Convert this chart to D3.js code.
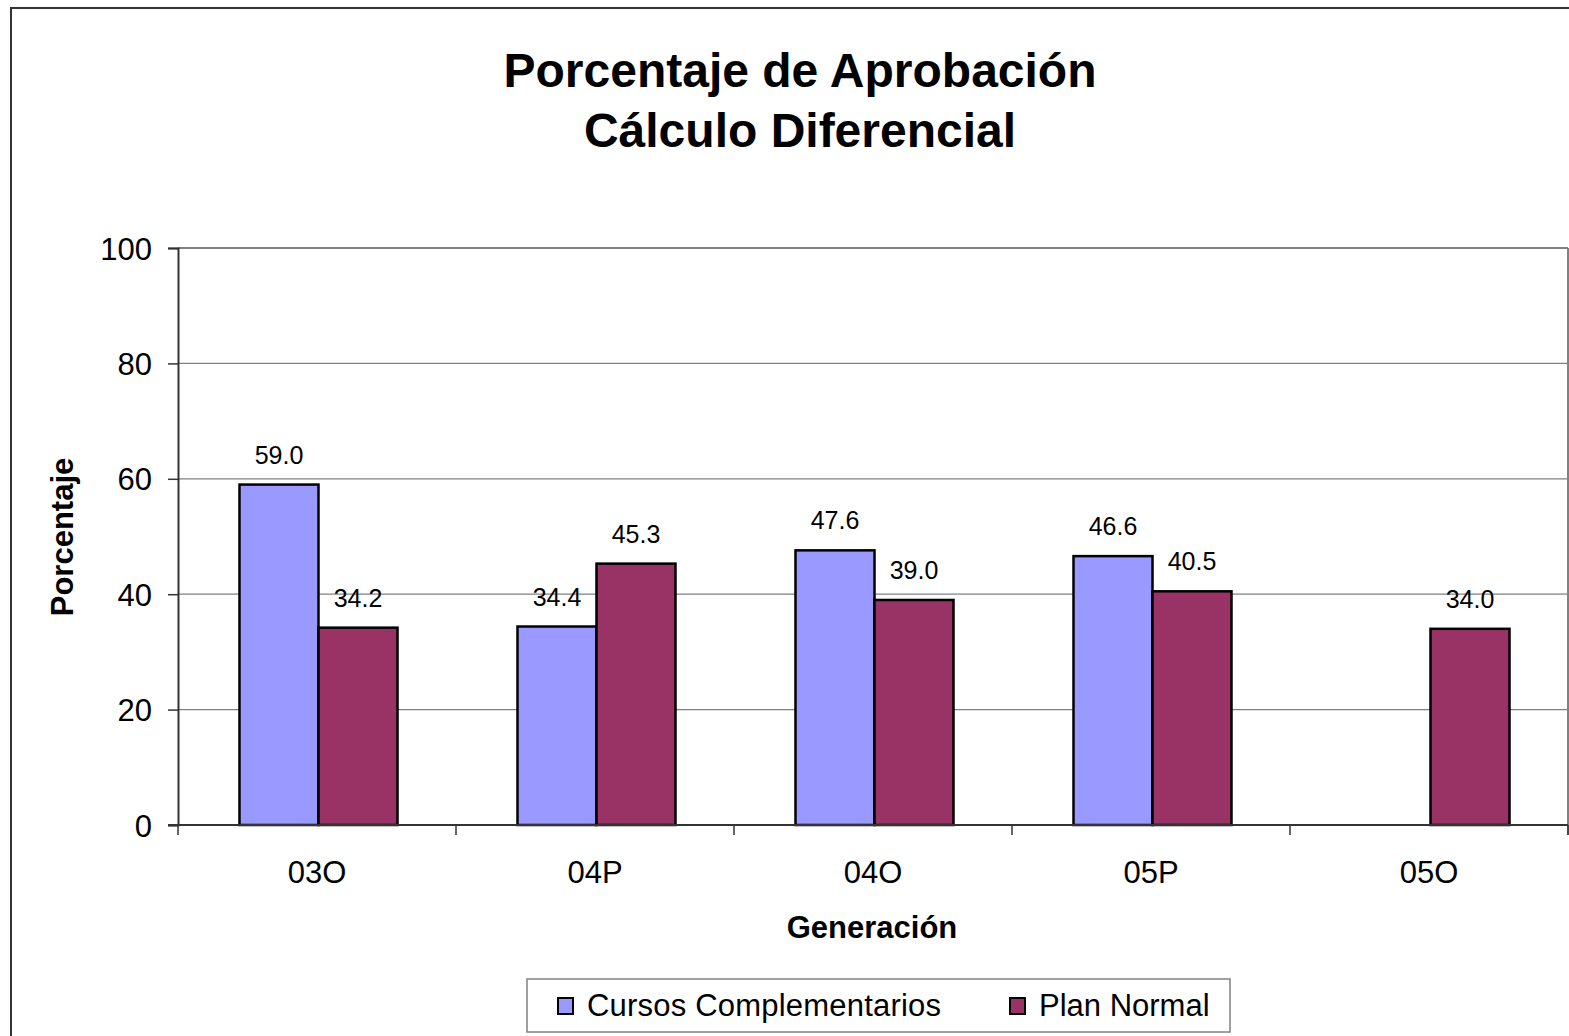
<!DOCTYPE html>
<html>
<head>
<meta charset="utf-8">
<script src="https://cdn.jsdelivr.net/npm/d3@7"></script>
<style>
  body { margin: 0; background: #fff; }
  svg { display: block; font-family: "Liberation Sans", Arial, sans-serif; }
</style>
</head>
<body>
<svg id="chart"></svg>
<script>
// DATOS
const generaciones = ["03O", "04P", "04O", "05P", "05O"];
const series = ["Cursos Complementarios", "Plan Normal"];
const cursos = [59.0, 34.4, 47.6, 46.6, null];
const planNormal = [34.2, 45.3, 39.0, 40.5, 34.0];
const yTicks = [0, 20, 40, 60, 80, 100];
const colores = ["#9999FF", "#993366"];

const width = 1569, height = 1036;
const m = { left: 178, right: 1568, top: 248, bottom: 825 };

const svg = d3.select("#chart").attr("width", width).attr("height", height);

// marco exterior
svg.append("rect")
  .attr("x", 11).attr("y", 8).attr("width", width).attr("height", height)
  .attr("fill", "none").attr("stroke", "#333").attr("stroke-width", 2);

// ESCALAS
const x0 = d3.scaleBand()
  .domain(generaciones)
  .range([m.left, m.right])
  .paddingInner(120 / 278)
  .paddingOuter(60 / 278);

const x1 = d3.scaleBand()
  .domain(series)
  .range([0, x0.bandwidth()]);

const y = d3.scaleLinear().domain([0, 100]).range([m.bottom, m.top]);

// rejilla
svg.append("g").selectAll("line")
  .data(yTicks.filter(d => d > 0))
  .join("line")
  .attr("x1", m.left).attr("x2", m.right)
  .attr("y1", d => y(d)).attr("y2", d => y(d))
  .attr("stroke", "#808080")
  .attr("stroke-width", d => d === 100 ? 2 : 1.3);

// borde derecho del area
svg.append("line")
  .attr("x1", m.right).attr("x2", m.right)
  .attr("y1", m.top).attr("y2", m.bottom + 10)
  .attr("stroke", "#808080").attr("stroke-width", 2);

// EJE Y
const yAxis = svg.append("g")
  .attr("transform", `translate(${m.left},0)`)
  .call(d3.axisLeft(y).tickValues(yTicks).tickSize(10).tickPadding(16));
yAxis.select(".domain").attr("stroke", "#333").attr("stroke-width", 2);
yAxis.selectAll(".tick line").attr("stroke", "#333").attr("stroke-width", 1.5);
yAxis.selectAll("text").attr("font-size", 31).attr("fill", "#000")
  .attr("dy", "0.36em")
  .attr("font-family", "Liberation Sans, Arial, sans-serif");

// BARRAS
const datos = generaciones.map((g, i) => ({
  g,
  valores: [
    { s: series[0], v: cursos[i], c: colores[0] },
    { s: series[1], v: planNormal[i], c: colores[1] }
  ]
}));

const grupos = svg.append("g").selectAll("g")
  .data(datos)
  .join("g")
  .attr("transform", d => `translate(${x0(d.g) + 1.5},0)`);

grupos.selectAll("rect")
  .data(d => d.valores.filter(v => v.v != null))
  .join("rect")
  .attr("x", d => x1(d.s))
  .attr("width", x1.bandwidth())
  .attr("y", d => y(d.v))
  .attr("height", d => y(0) - y(d.v))
  .attr("fill", d => d.c)
  .attr("stroke", "#000")
  .attr("stroke-width", 2.5);

// etiquetas de valor
grupos.selectAll("text")
  .data(d => d.valores.filter(v => v.v != null))
  .join("text")
  .attr("x", d => x1(d.s) + x1.bandwidth() / 2)
  .attr("y", d => y(d.v) - 21)
  .attr("text-anchor", "middle")
  .attr("font-size", 25)
  .text(d => d.v.toFixed(1));

// EJE X
const xAxis = svg.append("g")
  .attr("transform", `translate(0,${m.bottom})`)
  .call(d3.axisBottom(x0).tickSize(0).tickPadding(36));
xAxis.select(".domain").remove();
xAxis.selectAll("text").attr("font-size", 31).attr("fill", "#000")
  .attr("font-family", "Liberation Sans, Arial, sans-serif");

svg.append("line")
  .attr("x1", m.left - 10).attr("x2", m.right)
  .attr("y1", m.bottom).attr("y2", m.bottom)
  .attr("stroke", "#333").attr("stroke-width", 2);

// marcas entre categorias
const bordes = generaciones.map(g => x0(g) - x0.step() * x0.paddingOuter()).concat([m.right]);
svg.append("g").selectAll("line")
  .data(bordes)
  .join("line")
  .attr("x1", d => d).attr("x2", d => d)
  .attr("y1", m.bottom).attr("y2", m.bottom + 10)
  .attr("stroke", "#333").attr("stroke-width", 1.5);

// TITULOS
svg.append("text")
  .attr("x", 800).attr("y", 87)
  .attr("text-anchor", "middle").attr("font-size", 48).attr("font-weight", "bold")
  .text("Porcentaje de Aprobación");
svg.append("text")
  .attr("x", 800).attr("y", 147)
  .attr("text-anchor", "middle").attr("font-size", 48).attr("font-weight", "bold")
  .text("Cálculo Diferencial");

svg.append("text")
  .attr("x", 872).attr("y", 938)
  .attr("text-anchor", "middle").attr("font-size", 31).attr("font-weight", "bold")
  .text("Generación");

svg.append("text")
  .attr("transform", "translate(73,537) rotate(-90)")
  .attr("text-anchor", "middle").attr("font-size", 31).attr("font-weight", "bold")
  .text("Porcentaje");

// LEYENDA
const leyenda = svg.append("g");
leyenda.append("rect")
  .attr("x", 527).attr("y", 979).attr("width", 703).attr("height", 53)
  .attr("fill", "#fff").attr("stroke", "#808080").attr("stroke-width", 1.5);

const items = leyenda.selectAll("g.item")
  .data(series.map((s, i) => ({ s, c: colores[i], x: i === 0 ? 558 : 1010 })))
  .join("g")
  .attr("class", "item")
  .attr("transform", d => `translate(${d.x},998)`);

items.append("rect")
  .attr("width", 15).attr("height", 16)
  .attr("fill", d => d.c).attr("stroke", "#000").attr("stroke-width", 2);

items.append("text")
  .attr("x", 29).attr("y", 18)
  .attr("font-size", 31)
  .attr("textLength", d => d.s.length > 12 ? 354 : null)
  .text(d => d.s);
</script>
</body>
</html>
